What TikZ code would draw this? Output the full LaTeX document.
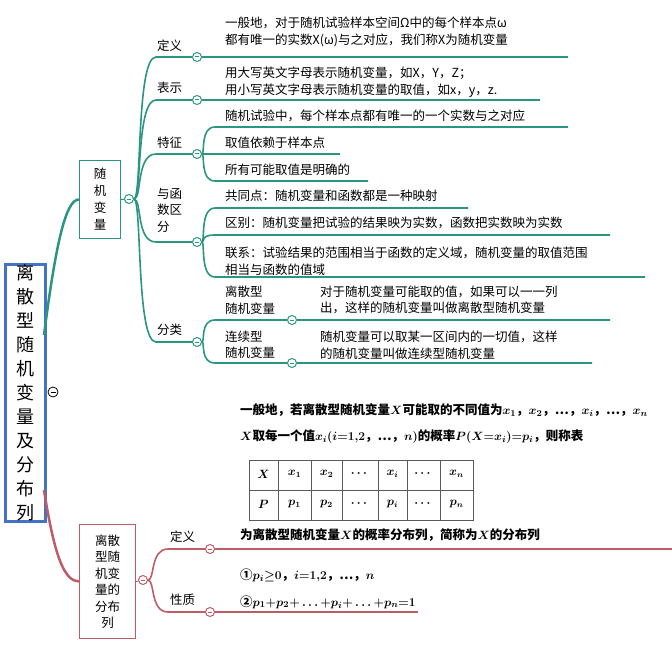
\documentclass[tikz,border=0pt]{standalone}
\usepackage{fontspec}
\setmainfont{Noto Sans CJK SC}
\usepackage{amsmath}
\begin{document}
\begin{tikzpicture}[x=1pt,y=-1pt,
  txt/.style={anchor=west,align=left,inner sep=0,font=\fontsize{12.5}{16.5}\selectfont},
  btxt/.style={txt,font=\fontsize{12.5}{16.5}\selectfont\bfseries},
  lbl/.style={txt},
  cc/.style={circle,draw=#1,fill=white,minimum size=9pt,inner sep=0,line width=1pt,
    path picture={\draw[#1,line width=1pt] ([xshift=-2.3pt]path picture bounding box.center)--([xshift=2.3pt]path picture bounding box.center);}},
  tl/.style={draw=teal1,line width=1.6pt},
  rl/.style={draw=red1,line width=1.6pt}]
\definecolor{teal1}{RGB}{42,150,130}
\definecolor{red1}{RGB}{190,92,104}
\definecolor{blue1}{RGB}{68,114,196}
\useasboundingbox (0,0) rectangle (672,658);
% root
\node[draw=blue1,line width=3pt,minimum width=40pt,minimum height=255pt,inner sep=0,anchor=north west,
  font=\fontsize{18}{24}\selectfont,align=center] (root) at (4,263) {离\\散\\型\\随\\机\\变\\量\\及\\分\\布\\列};
\node[circle,draw=black,minimum size=10pt,inner sep=0,line width=0.8pt,
  path picture={\draw[line width=0.8pt] ([xshift=-2.5pt]path picture bounding box.center)--([xshift=2.5pt]path picture bounding box.center);}] (rc) at (53,392) {};
% teal box
\node[draw=teal1,line width=1pt,minimum width=41pt,minimum height=78pt,anchor=north west,align=center,
  font=\fontsize{12.5}{17}\selectfont] (b1) at (79,160) {随\\机\\变\\量};
\draw[tl,line width=2.5pt] (44,335) .. controls (55,250) and (65,199) .. (b1.west);
\node[cc=teal1] (c1) at (129,199) {};
\draw[tl,line width=1pt] (b1.east)--(c1);
% red box
\node[draw=red1,line width=1pt,minimum width=56pt,minimum height=114pt,anchor=north west,align=center,
  font=\fontsize{12.5}{16.5}\selectfont] (b2) at (79,524) {离散\\型随\\机变\\量的\\分布\\列};
\draw[rl,line width=2.5pt] (44,490) .. controls (55,560) and (65,581) .. (b2.west);
\node[cc=red1] (c2) at (143,580) {};
\draw[rl,line width=1pt] (b2.east)--(c2);
% teal level 2
\foreach \n/\y in {d/57,r/100,t/154,h/242,f/342}{
  \node[cc=teal1] (c\n) at (197,\y) {};
  \draw[tl] (c1) .. controls (142,199) and (136,\y) .. (156,\y) -- (c\n);
}
\node[lbl] at (157,46) {定义};
\node[lbl] at (157,88) {表示};
\node[lbl] at (157,143) {特征};
\node[lbl] at (157,210) {与函\\数区\\分};
\node[lbl] at (157,330) {分类};
% 定义 / 表示
\coordinate (ed) at (568,57); \draw[tl] (cd)--(ed);
\node[txt] at (225,32) {一般地，对于随机试验样本空间Ω中的每个样本点ω\\都有唯一的实数X(ω)与之对应，我们称X为随机变量};
\coordinate (er) at (540,100); \draw[tl] (cr)--(er);
\node[txt] at (225,82) {用大写英文字母表示随机变量，如X，Y，Z；\\用小写英文字母表示随机变量的取值，如x，y，z.};
% 特征
\coordinate (t1) at (568,127); \coordinate (t2) at (340,154); \coordinate (t3) at (368,181);
\draw[tl] (ct) .. controls (205,154) and (200,127) .. (215,127) -- (t1);
\draw[tl] (ct) -- (t2);
\draw[tl] (ct) .. controls (205,154) and (200,181) .. (215,181) -- (t3);
\node[txt] at (225,116) {随机试验中，每个样本点都有唯一的一个实数与之对应};
\node[txt] at (225,143) {取值依赖于样本点};
\node[txt] at (225,170) {所有可能取值是明确的};
% 与函数区分
\coordinate (h1) at (468,208); \coordinate (h2) at (610,235); \coordinate (h3) at (645,277);
\draw[tl] (ch) .. controls (205,242) and (200,208) .. (215,208) -- (h1);
\draw[tl] (ch) .. controls (205,242) and (200,235) .. (215,235) -- (h2);
\draw[tl] (ch) .. controls (205,242) and (200,277) .. (215,277) -- (h3);
\node[txt] at (225,196) {共同点：随机变量和函数都是一种映射};
\node[txt] at (225,223) {区别：随机变量把试验的结果映为实数，函数把实数映为实数};
\node[txt] at (225,261) {联系：试验结果的范围相当于函数的定义域，随机变量的取值范围\\相当与函数的值域};
% 分类
\node[cc=teal1] (f1) at (292,320) {};
\node[cc=teal1] (f2) at (292,363) {};
\coordinate (fe1) at (610,320); \coordinate (fe2) at (592,363);
\draw[tl] (cf) .. controls (205,342) and (200,320) .. (215,320) -- (f1) -- (fe1);
\draw[tl] (cf) .. controls (205,342) and (200,363) .. (215,363) -- (f2) -- (fe2);
\node[txt] at (225,300) {离散型\\随机变量};
\node[txt] at (225,345) {连续型\\随机变量};
\node[txt] at (320,300) {对于随机变量可能取的值，如果可以一一列\\出，这样的随机变量叫做离散型随机变量};
\node[txt] at (320,345) {随机变量可以取某一区间内的一切值，这样\\的随机变量叫做连续型随机变量};
% middle text
\node[btxt] at (240,410) {一般地，若离散型随机变量$\boldsymbol{X}$可能取的不同值为$\boldsymbol{x_1}$，$\boldsymbol{x_2}$，…，$\boldsymbol{x_i}$，…，$\boldsymbol{x_n}$};
\node[btxt] at (240,437) {$\boldsymbol{X}$取每一个值$\boldsymbol{x_i(i{=}1{,}2}$，…，$\boldsymbol{n)}$的概率$\boldsymbol{P(X{=}x_i){=}p_i}$，则称表};
% table
\draw[line width=0.8pt,gray!70!black] (249,460) rectangle (473,520) (249,490)--(473,490);
\foreach \x in {278,311,342,378,407,440}{\draw[line width=0.8pt,gray!70!black] (\x,460)--(\x,520);}
\foreach \x/\a/\b in {263.5/X/P,294.5/x_1/p_1,326.5/x_2/p_2,360/\cdots/\cdots,392.5/x_i/p_i,423.5/\cdots/\cdots,456.5/x_n/p_n}{
  \node[font=\fontsize{12}{14}\selectfont] at (\x,474) {$\boldsymbol{\a}$};
  \node[font=\fontsize{12}{14}\selectfont] at (\x,504) {$\boldsymbol{\b}$};
}
% red level 2
\node[cc=red1] (rd) at (210,549) {};
\node[cc=red1] (rp) at (210,612) {};
\draw[rl] (c2) .. controls (155,580) and (150,549) .. (168,549) -- (rd);
\draw[rl] (c2) .. controls (155,580) and (150,612) .. (168,612) -- (rp);
\coordinate (rde) at (672,549); \coordinate (rpe) at (418,612);
\draw[rl] (rd)--(rde); \draw[rl] (rp)--(rpe);
\node[lbl] at (170,537) {定义};
\node[lbl] at (170,600) {性质};
\node[btxt] at (240,535) {为离散型随机变量$\boldsymbol{X}$的概率分布列，简称为$\boldsymbol{X}$的分布列};
\node[btxt] at (240,575) {①$\boldsymbol{p_i{\ge}0}$，$\boldsymbol{i{=}1{,}2}$，…，$\boldsymbol{n}$};
\node[btxt] at (240,602) {②$\boldsymbol{p_1{+}p_2{+}\ldots{+}p_i{+}\ldots{+}p_n{=}1}$};
\end{tikzpicture}
\end{document}
